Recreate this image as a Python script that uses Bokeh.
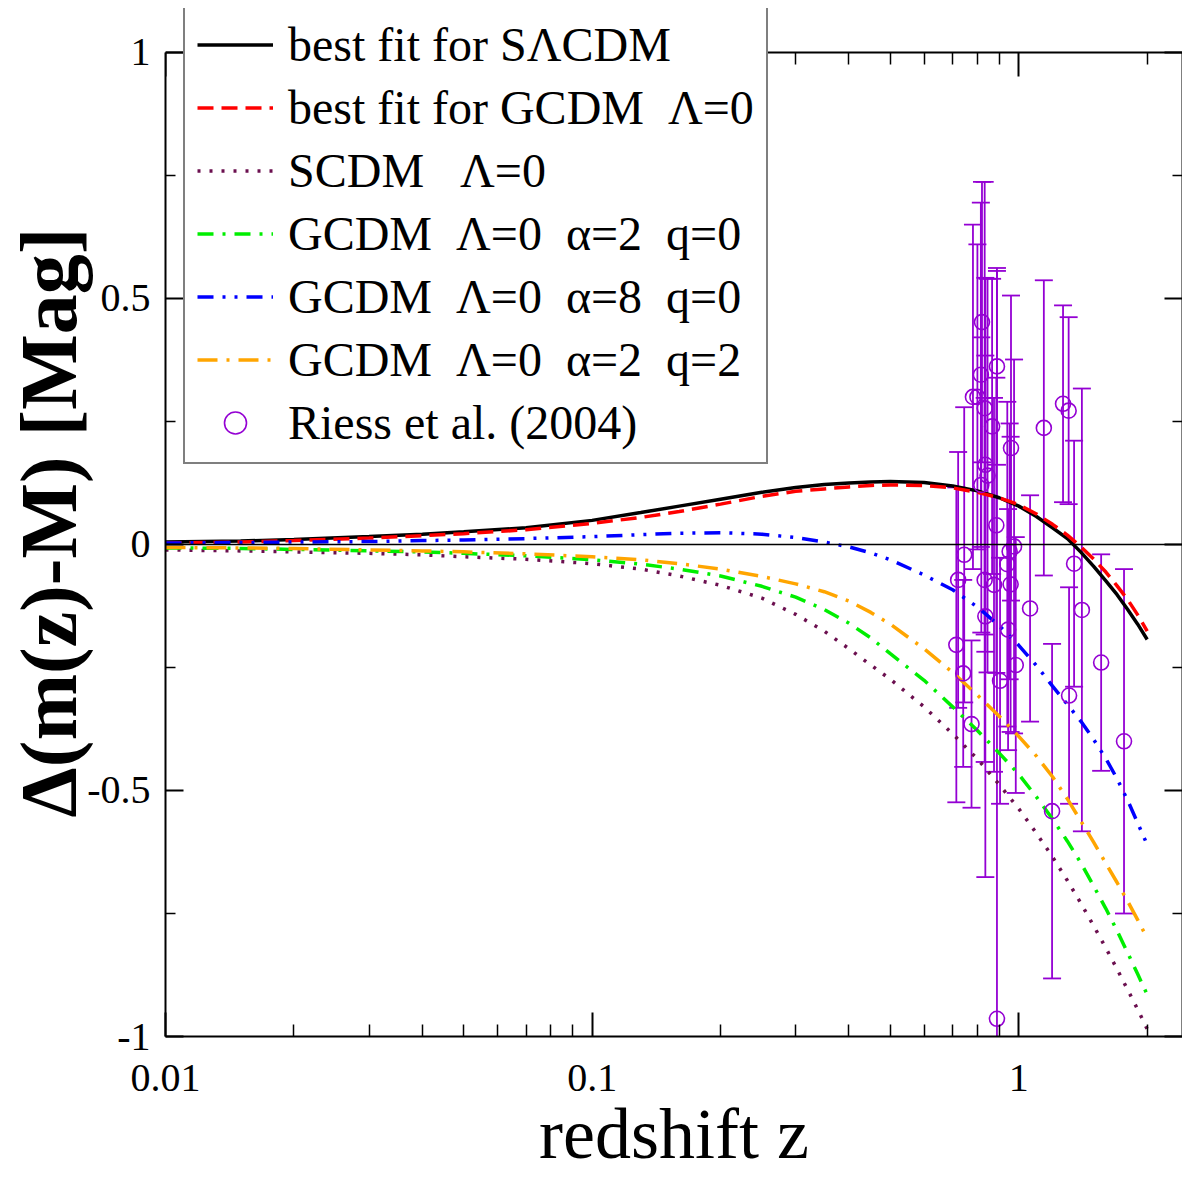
from bokeh.plotting import figure
from bokeh.models import (ColumnDataSource, Whisker, TeeHead, Span, Legend, LegendItem,
                          FixedTicker, LinearAxis, LogAxis, Range1d)
from bokeh.embed import file_html
from bokeh.resources import INLINE

# ---------------- data ----------------
z_grid = [0.01, 0.015, 0.02, 0.03, 0.04, 0.05, 0.07, 0.1, 0.13, 0.16, 0.2, 0.25, 0.3, 0.35,
          0.4, 0.45, 0.5, 0.6, 0.7, 0.8, 0.9, 1.0, 1.1, 1.2, 1.3, 1.4, 1.5, 1.6, 1.7, 1.8, 1.9, 2.0]

best_slcdm = [0.005, 0.007, 0.010, 0.016, 0.021, 0.026, 0.034, 0.049, 0.065, 0.078, 0.092, 0.106,
              0.116, 0.122, 0.125, 0.127, 0.128, 0.126, 0.119, 0.109, 0.095, 0.078, 0.057, 0.034,
              0.012, -0.016, -0.045, -0.074, -0.102, -0.132, -0.162, -0.193]
best_gcdm = [0.003, 0.005, 0.008, 0.013, 0.018, 0.022, 0.030, 0.043, 0.055, 0.067, 0.082, 0.098,
             0.108, 0.113, 0.117, 0.120, 0.121, 0.120, 0.115, 0.106, 0.095, 0.081, 0.062, 0.041,
             0.019, -0.005, -0.030, -0.056, -0.084, -0.112, -0.143, -0.176]
scdm = [-0.011, -0.013, -0.015, -0.018, -0.021, -0.025, -0.030, -0.039, -0.050, -0.064, -0.083, -0.109,
        -0.142, -0.176, -0.212, -0.245, -0.274, -0.330, -0.385, -0.436, -0.488, -0.537, -0.587, -0.635,
        -0.683, -0.730, -0.776, -0.820, -0.863, -0.905, -0.945, -0.985]
gcdm_a2_q0 = [-0.007, -0.008, -0.010, -0.013, -0.015, -0.018, -0.023, -0.031, -0.040, -0.050, -0.064, -0.085,
              -0.107, -0.132, -0.160, -0.190, -0.222, -0.276, -0.330, -0.378, -0.424, -0.467, -0.513, -0.558,
              -0.603, -0.648, -0.695, -0.740, -0.785, -0.830, -0.873, -0.915]
gcdm_a8_q0 = [0.003, 0.004, 0.005, 0.006, 0.008, 0.009, 0.012, 0.016, 0.020, 0.023, 0.024, 0.021,
              0.014, 0.005, -0.005, -0.017, -0.031, -0.062, -0.092, -0.127, -0.165, -0.205, -0.246, -0.288,
              -0.325, -0.360, -0.397, -0.435, -0.476, -0.520, -0.566, -0.610]
gcdm_a2_q2 = [-0.006, -0.007, -0.008, -0.011, -0.013, -0.015, -0.019, -0.025, -0.031, -0.039, -0.050, -0.065,
              -0.080, -0.096, -0.115, -0.138, -0.162, -0.212, -0.260, -0.306, -0.349, -0.390, -0.430, -0.472,
              -0.517, -0.563, -0.606, -0.648, -0.687, -0.725, -0.763, -0.800]

riess_z = [0.714, 0.741, 0.775, 0.835, 0.904, 0.944, 0.984, 0.889, 0.745, 0.721,
           0.832, 0.875, 0.957, 0.940, 0.952, 0.975, 0.820, 0.815, 0.832, 0.866,
           0.835, 0.845, 0.817, 0.781, 0.800, 0.889, 0.886, 0.959,
           1.063, 1.145, 1.270, 1.309, 1.348, 1.406, 1.312, 1.197, 1.560, 1.765]
riess_dm = [-0.204, -0.262, -0.365, -0.146, -0.277, -0.173, -0.245, -0.964, -0.021, -0.072,
            -0.072, -0.082, -0.081, -0.040, -0.014, -0.004, 0.452, 0.345, 0.277, 0.240,
            0.162, 0.140, 0.121, 0.300, 0.300, 0.362, 0.039, 0.196,
            -0.130, 0.237, 0.286, 0.272, -0.039, -0.133, -0.307, -0.542, -0.240, -0.400]
riess_err = [0.32, 0.19, 0.17, 0.53, 0.25, 0.245, 0.26, 1.52, 0.30, 0.26,
             0.37, 0.38, 0.30, 0.33, 0.26, 0.38, 0.285, 0.35, 0.46, 0.30,
             0.38, 0.40, 0.30, 0.35, 0.31, 0.20, 0.30, 0.31,
             0.23, 0.30, 0.20, 0.19, 0.25, 0.45, 0.22, 0.34, 0.22, 0.35]

labels = ["best fit for S\u039bCDM",
          "best fit for GCDM\u00a0\u00a0\u039b=0",
          "SCDM\u00a0\u00a0\u00a0\u039b=0",
          "GCDM\u00a0\u00a0\u039b=0\u00a0\u00a0\u03b1=2\u00a0\u00a0q=0",
          "GCDM\u00a0\u00a0\u039b=0\u00a0\u00a0\u03b1=8\u00a0\u00a0q=0",
          "GCDM\u00a0\u00a0\u039b=0\u00a0\u00a0\u03b1=2\u00a0\u00a0q=2",
          "Riess et al. (2004)"]

x_major = [0.01, 0.1, 1]
x_minor = [0.02, 0.03, 0.04, 0.05, 0.06, 0.07, 0.08, 0.09,
           0.2, 0.3, 0.4, 0.5, 0.6, 0.7, 0.8, 0.9, 2]
x_labels = {0.01: "0.01", 0.1: "0.1", 1: "1"}
y_major = [-1, -0.5, 0, 0.5, 1]
y_minor = [-0.75, -0.25, 0.25, 0.75]
y_labels = {-1: "-1", -0.5: "-0.5", 0: "0", 0.5: "0.5", 1: "1"}

# ---------------- figure ----------------
FONT = "Liberation Serif"
VIOLET = "#9400d3"

p = figure(width=1182, height=1188, x_axis_type="log",
           x_range=Range1d(0.01, 2.42), y_range=Range1d(-1, 1.0894),
           output_backend="svg", toolbar_location=None,
           min_border_left=165, min_border_right=0, min_border_top=8, min_border_bottom=152)
p.grid.visible = False
p.outline_line_color = None
p.background_fill_color = "white"
p.border_fill_color = "white"

p.add_layout(Span(location=0, dimension="width", line_color="black", line_width=1.5))

r_black = p.line(z_grid, best_slcdm, line_color="black", line_width=3.5)
r_red = p.line(z_grid, best_gcdm, line_color="#ff0000", line_width=3.5, line_dash="16 8")
r_brown = p.line(z_grid, scdm, line_color="#6b0f4f", line_width=3.5, line_dash="3 9")
r_green = p.line(z_grid, gcdm_a2_q0, line_color="#00ee00", line_width=3.5, line_dash="16 9 3 9")
r_blue = p.line(z_grid, gcdm_a8_q0, line_color="#0000ff", line_width=3.5, line_dash="16 9 3 9 3 9")
r_orange = p.line(z_grid, gcdm_a2_q2, line_color="#ffa500", line_width=3.5, line_dash="20 9 3 9")

lower = [d - e for d, e in zip(riess_dm, riess_err)]
upper = [d + e for d, e in zip(riess_dm, riess_err)]
src = ColumnDataSource(dict(z=riess_z, dm=riess_dm, lo=lower, hi=upper))
w = Whisker(source=src, base="z", lower="lo", upper="hi", dimension="height",
            line_color=VIOLET, line_width=1.8,
            upper_head=TeeHead(size=18, line_color=VIOLET, line_width=1.8),
            lower_head=TeeHead(size=18, line_color=VIOLET, line_width=1.8))
p.add_layout(w)
r_data = p.scatter("z", "dm", source=src, marker="circle", size=15, fill_color=None,
                   line_color=VIOLET, line_width=1.6)

# ---------------- axes ----------------
def style(ax, with_labels):
    ax.axis_line_color = "black"
    ax.axis_line_width = 2
    ax.major_tick_line_color = "black"
    ax.minor_tick_line_color = "black"
    ax.major_tick_line_width = 2
    ax.minor_tick_line_width = 1.5
    ax.major_tick_out = 0
    ax.minor_tick_out = 0
    ax.major_label_text_font = FONT
    ax.major_label_text_color = "black"
    ax.axis_label_text_color = "black"
    if not with_labels:
        ax.major_label_text_font_size = "2px"
        ax.major_label_text_alpha = 0
        ax.major_label_standoff = 0

xa = p.xaxis[0]
xa.ticker = FixedTicker(ticks=x_major, minor_ticks=x_minor)
xa.major_label_overrides = x_labels
style(xa, True)
xa.major_tick_in = 24
xa.minor_tick_in = 12
xa.major_label_text_font_size = "40px"
xa.major_label_standoff = 28
xa.axis_label = "redshift z"
xa.axis_label_text_font = FONT
xa.axis_label_text_font_size = "72px"
xa.axis_label_text_font_style = "normal"
xa.axis_label_standoff = 0

ya = p.yaxis[0]
ya.ticker = FixedTicker(ticks=y_major, minor_ticks=y_minor)
ya.major_label_overrides = y_labels
ya.bounds = (-1, 1)
style(ya, True)
ya.major_tick_in = 18
ya.minor_tick_in = 10
ya.major_label_text_font_size = "40px"
ya.major_label_standoff = 15
ya.axis_label = "\u0394(m(z)-M) [Mag]"
ya.axis_label_text_font = FONT
ya.axis_label_text_font_size = "80px"
ya.axis_label_text_font_style = "bold"
ya.axis_label_standoff = -9

top = LogAxis(ticker=FixedTicker(ticks=x_major, minor_ticks=x_minor), fixed_location=1)
style(top, False)
top.major_tick_in = 24
top.minor_tick_in = 12
p.add_layout(top, "above")

right = LinearAxis(ticker=FixedTicker(ticks=y_major, minor_ticks=y_minor), bounds=(-1, 1))
style(right, False)
right.major_tick_in = 18
right.minor_tick_in = 10
p.add_layout(right, "right")

# ---------------- legend ----------------
legend = Legend(items=[LegendItem(label=labels[0], renderers=[r_black]),
                       LegendItem(label=labels[1], renderers=[r_red]),
                       LegendItem(label=labels[2], renderers=[r_brown]),
                       LegendItem(label=labels[3], renderers=[r_green]),
                       LegendItem(label=labels[4], renderers=[r_blue]),
                       LegendItem(label=labels[5], renderers=[r_orange]),
                       LegendItem(label=labels[6], renderers=[r_data])],
                location=(18, 572))
legend.label_text_font = FONT
legend.label_text_font_size = "48px"
legend.label_text_color = "black"
legend.label_height = 55
legend.glyph_height = 55
legend.glyph_width = 76
legend.label_standoff = 15
legend.spacing = 8
legend.padding = 12
legend.margin = 0
legend.border_line_color = "black"
legend.border_line_width = 2
legend.background_fill_color = "white"
legend.background_fill_alpha = 1.0
p.add_layout(legend, "center")

open("out.html", "w").write(file_html(p, INLINE))
